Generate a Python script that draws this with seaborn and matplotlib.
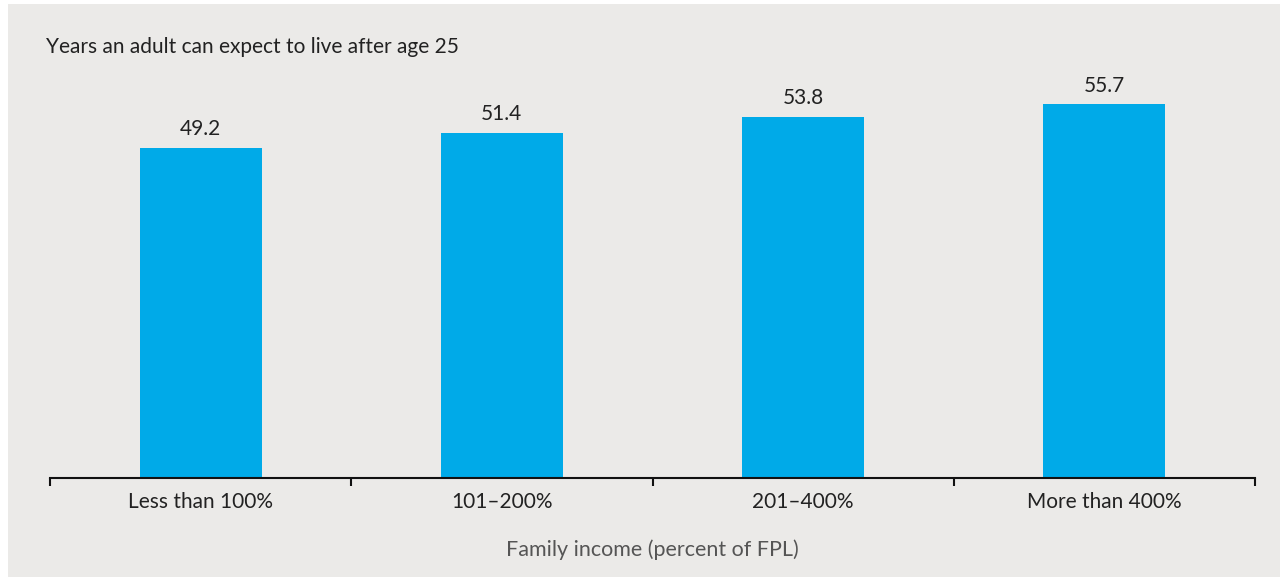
import matplotlib
matplotlib.use("Agg")
import matplotlib.pyplot as plt
from matplotlib.patches import Rectangle
import pandas as pd
import seaborn as sns

# Data
categories = ["Less than 100%", "101\u2013200%", "201\u2013400%", "More than 400%"]
years = [49.2, 51.4, 53.8, 55.7]

bar_color = "#00aae8"
bg_color = "#ebeae8"
text_color = "#222222"

df = pd.DataFrame({"income": categories, "years": years})

sns.set_style("white")
plt.rcParams["font.family"] = ["Lato", "DejaVu Sans"]

fig = plt.figure(figsize=(12.8, 5.81), dpi=100, facecolor="white")
# gray panel behind the chart
fig.patches.append(Rectangle((8 / 1280, 4 / 581), 1 - 8 / 1280, 573 / 581,
                             transform=fig.transFigure, facecolor=bg_color,
                             edgecolor="none", zorder=-10))

ax = fig.add_axes([50 / 1280, 1 - 478 / 581, 1205 / 1280, 403 / 581])
ax.set_facecolor("none")

sns.barplot(data=df, x="income", y="years", color=bar_color, width=0.405,
            saturation=1, linewidth=0, ax=ax)

ax.set_xlim(-0.5, 3.5)
ax.set_ylim(0, 60)

# value labels
ax.bar_label(ax.containers[0], fmt="%.1f", padding=6, fontsize=15,
             color=text_color)

# spines
for s in ["top", "right", "left"]:
    ax.spines[s].set_visible(False)
ax.spines["bottom"].set_linewidth(1.5)
ax.spines["bottom"].set_color("#111111")

ax.set_yticks([])
ax.set_ylabel("")
ax.set_xlabel("")
ax.tick_params(axis="x", which="major", length=0, pad=10, labelsize=15,
               labelcolor=text_color)
ax.set_xticks([-0.5, 0.5, 1.5, 2.5, 3.5], minor=True)
ax.tick_params(axis="x", which="minor", bottom=True, length=6, width=1.5,
               color="#111111", direction="out")

fig.text(46 / 1280, 1 - 47 / 581, "Years an adult can expect to live after age 25",
         fontsize=15, color=text_color, ha="left", va="center")
fig.text(652 / 1280, 1 - 550 / 581, "Family income (percent of FPL)",
         fontsize=15.5, color="#555555", ha="center", va="center")

fig.savefig("out.png", dpi=100, facecolor=fig.get_facecolor())
